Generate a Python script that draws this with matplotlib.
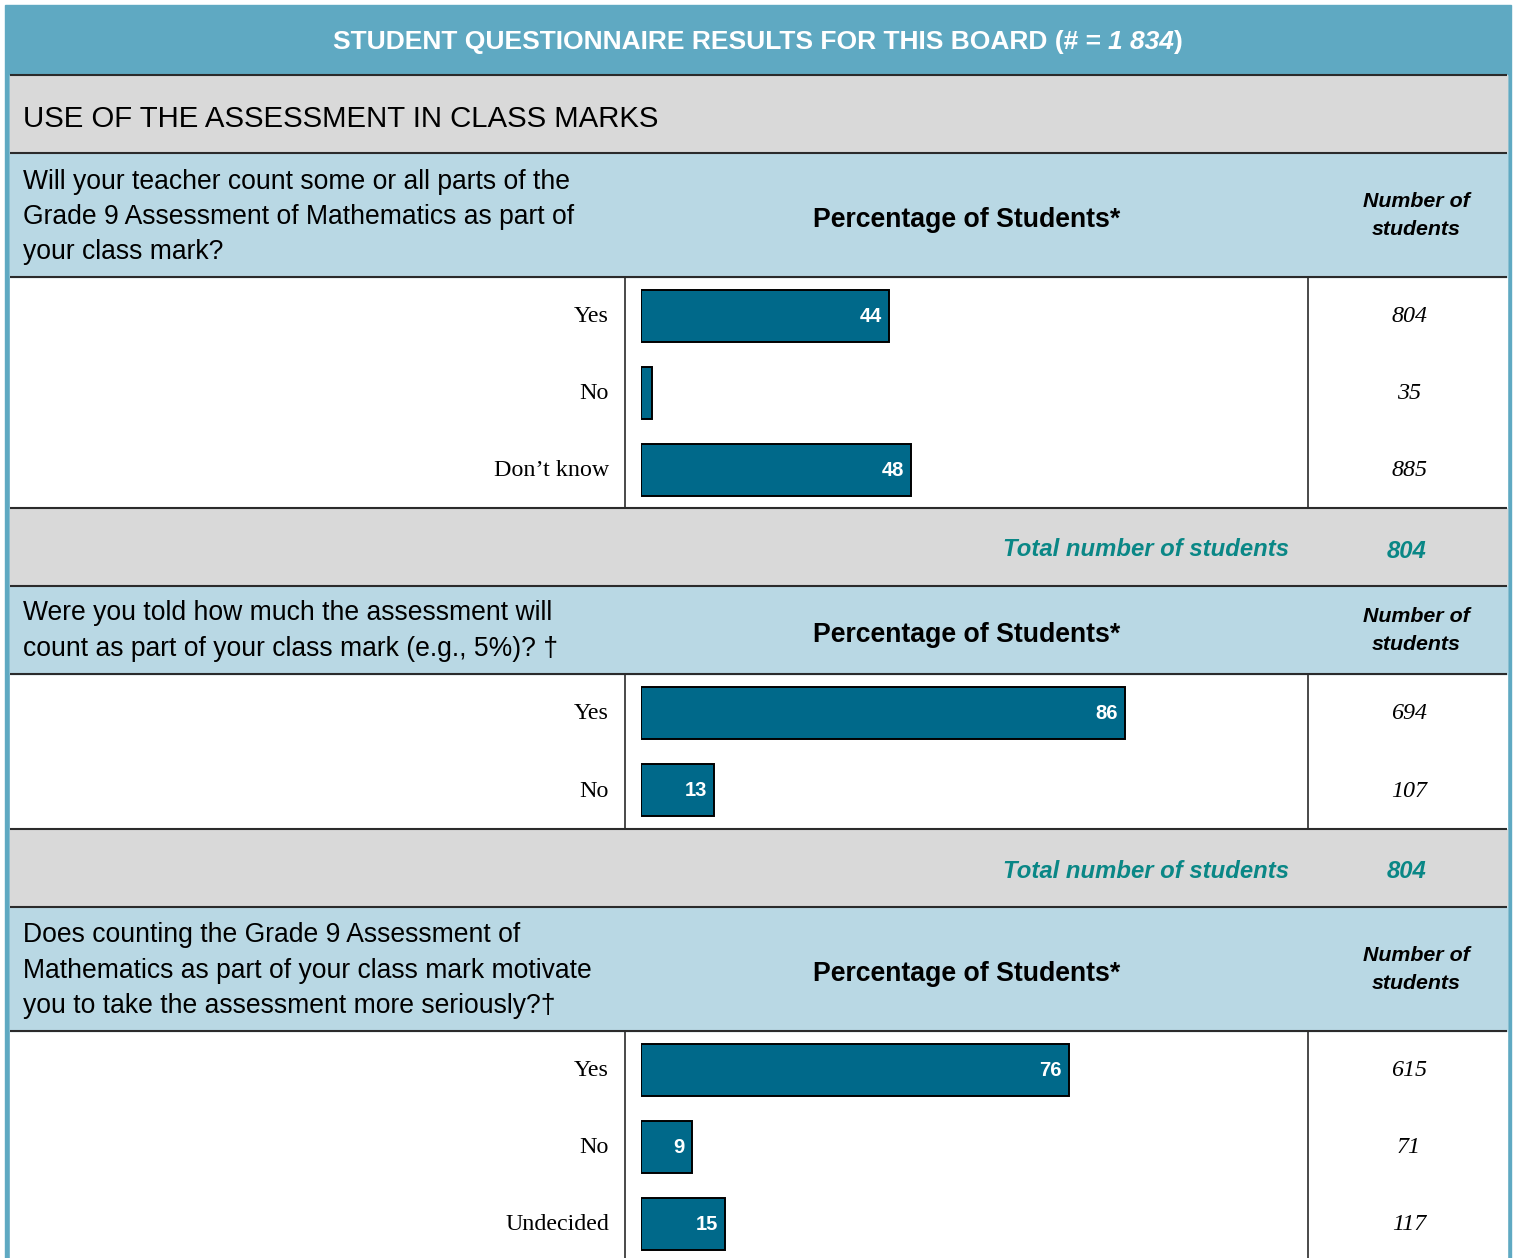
import matplotlib
matplotlib.use("Agg")
import matplotlib.pyplot as plt
from matplotlib.patches import Rectangle

# ---------------- data ----------------
title_main = "STUDENT QUESTIONNAIRE RESULTS FOR THIS BOARD (# = "
title_n = "1 834"
section_title = "USE OF THE ASSESSMENT IN CLASS MARKS"

q1_text = "Will your teacher count some or all parts of the\nGrade 9 Assessment of Mathematics as part of\nyour class mark?"
q1_cats = ["Yes", "No", "Don\u2019t know"]
q1_pct = [44, 2, 48]
q1_n = [804, 35, 885]
q1_total = 804

q2_text = "Were you told how much the assessment will\ncount as part of your class mark (e.g., 5%)? \u2020"
q2_cats = ["Yes", "No"]
q2_pct = [86, 13]
q2_n = [694, 107]
q2_total = 804

q3_text = "Does counting the Grade 9 Assessment of\nMathematics as part of your class mark motivate\nyou to take the assessment more seriously?\u2020"
q3_cats = ["Yes", "No", "Undecided"]
q3_pct = [76, 9, 15]
q3_n = [615, 71, 117]

pct_header = "Percentage of Students*"
num_header = "Number of\nstudents"
total_label = "Total number of students"

# ---------------- style ----------------
W, H = 1515, 1258
BLUE = "#5FA9C2"
LIGHT = "#B9D8E4"
GRAY = "#D9D9D9"
BAR = "#00698A"
TEAL = "#0A8786"
LINE = "#2b2b2b"
SANS = ["Liberation Sans", "DejaVu Sans"]
SERIF = ["Liberation Serif", "DejaVu Serif"]

fig = plt.figure(figsize=(W / 100, H / 100), dpi=100)
ax = fig.add_axes([0, 0, 1, 1])
ax.set_xlim(0, W)
ax.set_ylim(H, 0)
ax.axis("off")

L, R = 9.5, 1507
# outer blue frame
ax.add_patch(Rectangle((5, 5), 1511 - 5, H, color=BLUE, zorder=0))
ax.add_patch(Rectangle((L, 75), R - L, H, color="white", zorder=0.5))


def band(y0, y1, color):
    ax.add_patch(Rectangle((L, y0), R - L, y1 - y0, color=color, zorder=1))


band(75, 153, GRAY)
band(153, 277, LIGHT)
band(508, 586, GRAY)
band(586, 674, LIGHT)
band(829, 907, GRAY)
band(907, 1031, LIGHT)

for y in [75, 153, 277, 508, 586, 674, 829, 907, 1031]:
    ax.plot([L, R], [y, y], color=LINE, lw=1.5, zorder=3, solid_capstyle="butt")
for (y0, y1) in [(277, 508), (674, 829), (1031, H)]:
    for x in [625, 1308]:
        ax.plot([x, x], [y0, y1], color=LINE, lw=1.2, zorder=3)

# title (centered, with italic part)
fig.canvas.draw()
r = fig.canvas.get_renderer()
tfs = 19
ty = 42
t1 = ax.text(0, ty, title_main, color="white", fontsize=tfs, fontweight="bold",
             family=SANS, va="center", ha="left", zorder=5)
t2 = ax.text(0, ty, title_n, color="white", fontsize=tfs, fontweight="bold",
             style="italic", family=SANS, va="center", ha="left", zorder=5)
t3 = ax.text(0, ty, ")", color="white", fontsize=tfs, fontweight="bold",
             family=SANS, va="center", ha="left", zorder=5)
ws = [t.get_window_extent(r).width for t in (t1, t2, t3)]
x0 = 758 - sum(ws) / 2
t1.set_x(x0)
t2.set_x(x0 + ws[0])
t3.set_x(x0 + ws[0] + ws[1])

ax.text(23, 119, section_title, fontsize=21.2, family=SANS, va="center",
        ha="left", zorder=5)


def question(y_top, y_bot, text, dy):
    yc = (y_top + y_bot) / 2
    ax.text(23, yc + dy, text, fontsize=19.1, family=SANS, va="center", ha="left",
            linespacing=1.46, zorder=5)
    ax.text(967, yc + 5, pct_header, fontsize=19.2, family=SANS, fontweight="bold",
            va="center", ha="center", zorder=5)
    ax.text(1416, yc + 0.5, num_header, fontsize=15.4, family=SANS, fontweight="bold",
            style="italic", va="center", ha="center", linespacing=1.6, zorder=5)


question(153, 277, q1_text, 2)
question(586, 674, q2_text, 1)
question(907, 1031, q3_text, 1.5)


def total_row(y, total):
    ax.text(1289, y, total_label, fontsize=17.2, family=SANS, fontweight="bold",
            style="italic", color=TEAL, va="center", ha="right", zorder=5)
    ax.text(1407, y + 1, str(total), fontsize=17.2, family=SANS, fontweight="bold",
            style="italic", color=TEAL, va="center", ha="center", zorder=5)


total_row(550, q1_total)
total_row(871, q2_total)

# bar blocks
BX0, BX1 = 641, 641 + 563  # 0% .. 100%


def block(y0, y1, cats, pct, nums):
    n = len(cats)
    ax_b = fig.add_axes([BX0 / W, 1 - y1 / H, (BX1 - BX0) / W, (y1 - y0) / H])
    ax_b.set_xlim(0, 100)
    ax_b.set_ylim(n - 0.5, -0.5)
    ax_b.axis("off")
    ax_b.patch.set_alpha(0)
    ypos = list(range(n))
    ax_b.barh(ypos, pct, height=52 / 77, left=0, color=BAR, edgecolor="black",
              linewidth=1.4, zorder=3)
    ax_b.set_zorder(5)
    for i, p in enumerate(pct):
        if p >= 5:
            ax_b.annotate(str(p), xy=(p, i), xytext=(-5, -0.5), textcoords="offset points",
                          ha="right", va="center", color="white", fontsize=14.5,
                          fontweight="bold", family=SANS, zorder=6)
    rowh = (y1 - y0) / n
    for i, (c, k) in enumerate(zip(cats, nums)):
        yc = y0 + rowh * (i + 0.5) + 1
        ax.text(609, yc, c, fontsize=17.3, family=SERIF, va="center", ha="right", zorder=5)
        ax.text(1409, yc, str(k), fontsize=17.3, family=SERIF, style="italic",
                va="center", ha="center", zorder=5)


block(277, 508, q1_cats, q1_pct, q1_n)
block(674, 829, q2_cats, q2_pct, q2_n)
block(1031, 1031 + 77 * 3, q3_cats, q3_pct, q3_n)

fig.savefig("out.png", dpi=100)
